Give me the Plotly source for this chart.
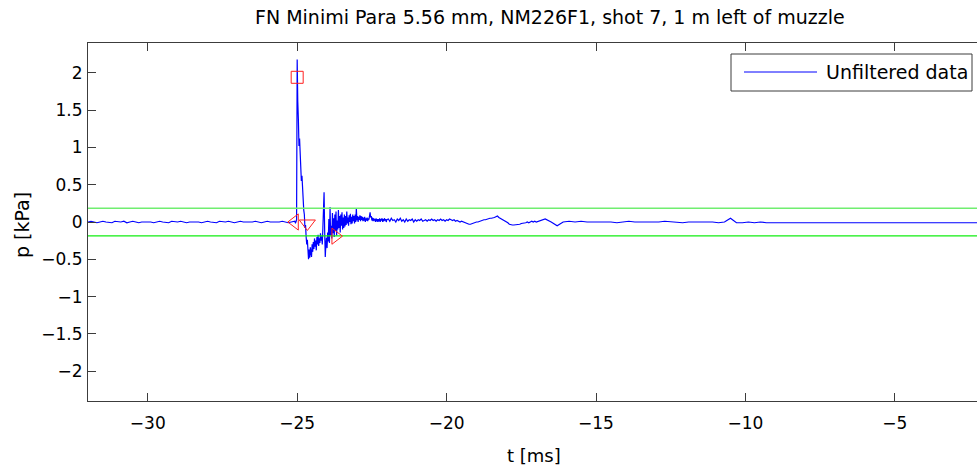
import numpy as np
import plotly.graph_objects as go

# ---- pressure record (kPa) in four sampled segments: start time, step (ms), samples ----
pre_t0, pre_dt = -32.0, 0.1
pre_p = [0.00, 0.01, 0.00, -0.01, 0.00, 0.01, 0.00, 0.00, -0.01, 0.01,
         0.00, 0.00, 0.01, -0.01, 0.00, 0.01, 0.00, -0.01, 0.00, 0.00,
         0.01, 0.00, -0.01, 0.00, 0.01, 0.00, 0.00, -0.01, 0.01, 0.00,
         0.00, 0.01, 0.00, -0.01, 0.00, 0.00, 0.01, 0.00, -0.01, 0.00,
         0.01, 0.00, 0.00, -0.01, 0.01, 0.00, 0.00, 0.01, 0.00, -0.01,
         0.00, 0.01, 0.00, 0.00, -0.01, 0.00, 0.01, 0.00, -0.01, 0.00,
         0.01, 0.00, 0.00, -0.01, 0.00, 0.01, 0.00, -0.01, 0.00]

burst_t0, burst_dt = -25.10, 0.02
burst_p = [0.00, 0.01, -0.01, 0.00, 0.03, 2.18, 1.62, 1.38, 1.02, 1.12,
           0.84, 0.78, 0.55, 0.62, 0.38, 0.30, 0.16, 0.10, -0.08, -0.04,
           -0.20, -0.30, -0.24, -0.45, -0.50, -0.37, -0.48, -0.34, -0.42, -0.47,
           -0.30, -0.40, -0.27, -0.36, -0.22, -0.33, -0.25, -0.38, -0.20, -0.30,
           -0.17, -0.32, -0.22, -0.28, -0.15, -0.25, -0.19, -0.30, -0.08, 0.18,
           0.40, -0.12, -0.47, -0.30, -0.21, -0.35, -0.14, -0.26, 0.04, -0.28,
           0.20, -0.18, -0.05, -0.22, 0.12, -0.15, 0.05, -0.20, 0.10, -0.12,
           0.14, -0.18, 0.02, -0.10, 0.16, -0.08, 0.08, -0.14, 0.10, -0.05,
           0.13, -0.10, 0.06, -0.08, 0.10, -0.06, 0.08, -0.04, 0.14, -0.02,
           0.06, -0.05, 0.09, 0.00, 0.11, -0.03, 0.07, -0.02, 0.10, 0.01,
           0.08, -0.02, 0.10, 0.00, 0.18, 0.02, 0.08, 0.00, 0.07, 0.03,
           0.09, 0.01, 0.08, 0.03, 0.07, 0.01, 0.06, 0.02, 0.07, 0.00,
           0.05, 0.02, 0.06, 0.01, 0.05, 0.03, 0.09, 0.13, 0.06, 0.08,
           0.02, 0.06, 0.01, 0.05, 0.02, 0.04, 0.00, 0.05, 0.01, 0.04,
           0.00, 0.04, 0.01, 0.05, 0.00, 0.04, 0.02, 0.05, 0.00, 0.04,
           0.01, 0.05, 0.02, 0.04, 0.00, 0.03]

tail_t0, tail_dt = -21.95, 0.05
tail_p = [0.04, 0.01, 0.05, 0.02, 0.03, 0.00, 0.04, 0.02, 0.05, 0.01,
          0.03, 0.00, 0.04, 0.01, 0.03, 0.02, 0.04, 0.00, 0.03, 0.01,
          0.03, 0.02, 0.04, 0.01, 0.02, 0.03, 0.01, 0.03, 0.02, 0.04,
          0.02, 0.03, 0.01, 0.03, 0.02, 0.04, 0.02, 0.03, 0.01, 0.03,
          0.02, 0.04, 0.03, 0.02, 0.03, 0.01, 0.02, 0.01, 0.00, 0.01,
          0.00, -0.01, -0.02, -0.02, -0.03, -0.03, -0.02, -0.02, -0.01, 0.00,
          0.00, 0.01, 0.01, 0.02, 0.03, 0.03, 0.04, 0.04, 0.05, 0.05,
          0.05, 0.06, 0.07, 0.08, 0.06, 0.05, 0.04, 0.03, 0.02, 0.01,
          -0.01, -0.03, -0.04, -0.04, -0.04, -0.04, -0.03, -0.04, -0.03, -0.02,
          -0.02, -0.01, -0.01, 0.00, -0.01, 0.00, 0.01, 0.00, 0.01, 0.00]

far_t0, far_dt = -16.9, 0.2
far_p = [0.01, 0.04, 0.00, -0.05, 0.00, 0.01, 0.00, 0.01, 0.00, 0.00,
         0.01, 0.00, 0.00, -0.01, 0.00, 0.01, 0.00, 0.00, -0.01, 0.00,
         0.00, 0.01, 0.00, 0.00, -0.01, 0.00, 0.00, 0.01, 0.00, 0.00,
         -0.01, 0.00, 0.05, -0.01, -0.01, 0.00, -0.01, 0.00, -0.01, -0.01,
         0.00, -0.01, -0.01, 0.00, -0.01, 0.00, -0.01, -0.01, 0.00, -0.01,
         -0.01, 0.00, -0.01, -0.01, 0.00, -0.01, -0.01, 0.00, -0.01, -0.01,
         0.00, -0.01, -0.01, 0.00, -0.01, -0.01, 0.00, -0.01, -0.01, 0.00,
         -0.01, -0.01, 0.00, -0.01, -0.01, 0.00, -0.01, -0.01, 0.00, -0.01]

# detection threshold (kPa)
threshold = 0.185

# detected events: peak (square), arrival (left), zero crossing (down), end (right)
peak_t, peak_p = [-25.0], [1.94]
arrive_t, arrive_p = [-25.08], [0.0]
cross_t, cross_p = [-24.66], [-0.02]
end_t, end_p = [-23.72], [-0.19]

x_ticks = [-30, -25, -20, -15, -10, -5]
y_ticks = [-2, -1.5, -1, -0.5, 0, 0.5, 1, 1.5, 2]


def seg_times(t0, dt, vals):
    return [round(t0 + i * dt, 4) for i in range(len(vals))]


t_all = (seg_times(pre_t0, pre_dt, pre_p) + seg_times(burst_t0, burst_dt, burst_p)
         + seg_times(tail_t0, tail_dt, tail_p) + seg_times(far_t0, far_dt, far_p))
p_all = pre_p + burst_p + tail_p + far_p

FONT = "DejaVu Sans, sans-serif"
RED = "#ff2020"

fig = go.Figure()
fig.add_trace(go.Scatter(x=t_all, y=p_all, mode="lines",
                         line=dict(color="#0000ff", width=1.2), name="Unfiltered data"))
fig.add_trace(go.Scatter(x=[-32, -1], y=[threshold, threshold], mode="lines",
                         line=dict(color="#70ee70", width=1.6)))
fig.add_trace(go.Scatter(x=[-32, -1], y=[-threshold, -threshold], mode="lines",
                         line=dict(color="#11ee11", width=1.3)))

for xs, ys, sym, sz in [(peak_t, peak_p, "square-open", 12),
                        (arrive_t, arrive_p, "triangle-left-open", 14),
                        (cross_t, cross_p, "triangle-down-open", 14),
                        (end_t, end_p, "triangle-right-open", 14)]:
    fig.add_trace(go.Scatter(x=xs, y=ys, mode="markers",
                             marker=dict(symbol=sym, size=sz, color=RED, line=dict(width=1))))

L, R, T, B = 88, 977, 43, 401
W, H = 977, 469


def px(x):
    return (x - L) / (R - L)


def py(y):
    return (B - y) / (B - T)


axis_common = dict(showgrid=False, zeroline=False, showline=True, linecolor="#3c3c3c",
                   linewidth=1, ticks="inside", ticklen=8, tickcolor="#3c3c3c",
                   tickfont=dict(family=FONT, size=17, color="#000"))

fig.update_layout(
    width=W, height=H, autosize=False,
    margin=dict(l=L, r=W - R, t=T, b=H - B, pad=0),
    paper_bgcolor="white", plot_bgcolor="white",
    showlegend=False,
    xaxis=dict(range=[-32.0, -2.25], tickvals=x_ticks, mirror="ticks",
               ticklabelstandoff=7, **axis_common),
    yaxis=dict(range=[-2.4, 2.4], tickvals=y_ticks, mirror=False,
               ticklabelstandoff=1, **axis_common),
)

annos = [
    dict(text="FN Minimi Para 5.56 mm, NM226F1, shot 7, 1 m left of muzzle",
         x=px(550), y=py(17), size=19),
    dict(text="t [ms]", x=px(534), y=py(455), size=18),
    dict(text="p [kPa]", x=px(22), y=py(225), size=19, textangle=-90),
]
for a in annos:
    fig.add_annotation(text=a["text"], x=a["x"], y=a["y"], xref="paper", yref="paper",
                       xanchor="center", yanchor="middle", showarrow=False,
                       textangle=a.get("textangle", 0),
                       font=dict(family=FONT, size=a["size"], color="#000"))

# legend box
fig.add_shape(type="rect", xref="paper", yref="paper",
              x0=px(731), x1=px(972), y0=py(91), y1=py(54),
              line=dict(color="#3c3c3c", width=1), fillcolor="white")
fig.add_shape(type="line", xref="paper", yref="paper",
              x0=px(744), x1=px(817), y0=py(72), y1=py(72),
              line=dict(color="#0000ff", width=1))
fig.add_annotation(text="Unfiltered data", x=px(824), y=py(72), xref="paper", yref="paper",
                   xanchor="left", yanchor="middle", showarrow=False,
                   font=dict(family=FONT, size=19, color="#000"))

fig.write_html("out.html")
